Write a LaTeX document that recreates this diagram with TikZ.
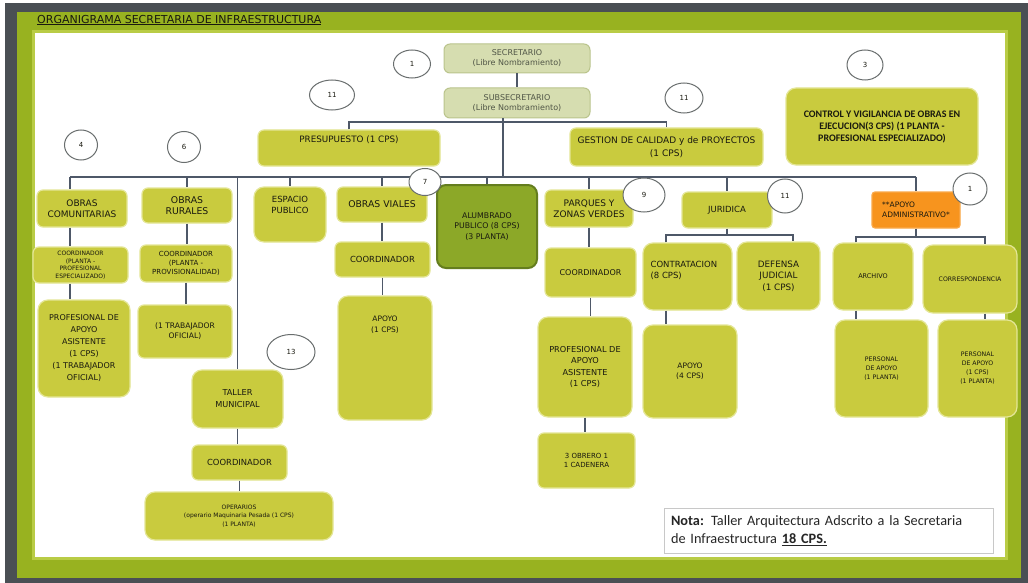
\documentclass[tikz,border=0pt]{standalone}
\usepackage{fontspec}
\setmainfont{Carlito}
\newfontfamily\boxfont{DejaVu Sans}
\usetikzlibrary{shapes.geometric}
\definecolor{frameDark}{RGB}{74,79,84}
\definecolor{frameGreen}{RGB}{152,178,32}
\definecolor{frameLight}{RGB}{185,204,70}
\definecolor{boxFill}{RGB}{201,203,62}
\definecolor{boxEdge}{RGB}{228,230,150}
\definecolor{paleFill}{RGB}{214,221,176}
\definecolor{paleEdge}{RGB}{186,196,140}
\definecolor{paleTxt}{RGB}{80,85,70}
\definecolor{alumFill}{RGB}{140,168,40}
\definecolor{alumEdge}{RGB}{100,125,30}
\definecolor{orangeFill}{RGB}{247,148,30}
\definecolor{lineCol}{RGB}{78,88,104}
\definecolor{txtCol}{RGB}{25,25,15}
\definecolor{circEdge}{RGB}{105,110,110}
\definecolor{notaEdge}{RGB}{200,200,200}
\newcommand\mkbox[7]{\node[#6, minimum width={#4-#2}, minimum height={#5-#3}] (#1) at ({(#2+#4)/2},{(#3+#5)/2}) {#7};}
\begin{document}
\begin{tikzpicture}[x=1pt,y=-1pt,
  bx/.style={draw=boxEdge, line width=1.2pt, fill=boxFill, rounded corners=6pt, text=txtCol, align=center, inner sep=1pt, font=\boxfont\fontsize{8}{10}\selectfont},
  fs/.style 2 args={font=\boxfont\fontsize{#1}{#2}\selectfont},
  bigr/.style={rounded corners=10pt},
  palebx/.style={bx, fill=paleFill, draw=paleEdge, line width=1pt, text=paleTxt},
  alumbx/.style={bx, fill=alumFill, draw=alumEdge, line width=2pt, rounded corners=9pt},
  orbx/.style={bx, fill=orangeFill, draw=orangeFill!80!white, align=left, rounded corners=3pt},
  num/.style={ellipse, draw=circEdge, line width=1pt, fill=white, inner sep=0pt, font=\boxfont\fontsize{7}{8}\selectfont, text=txtCol},
  conn/.style={draw=lineCol, line width=1.3pt},
  lbl/.style={text=txtCol, align=center, inner sep=0pt}]
\useasboundingbox (0,0) rectangle (1028,583);
% frame
\fill[white] (0,0) rectangle (1028,583);
\fill[frameDark] (5,3) rectangle (1028,583);
\fill[frameGreen] (17,12) rectangle (1021,578);
\draw[frameLight, line width=3pt] (33.5,31.5) rectangle (1006.5,558.5);
\fill[white] (35,33) rectangle (1005,557);
\node[anchor=west, font=\boxfont\fontsize{11}{12}\selectfont, text=txtCol, inner sep=0pt] (title) at (37,20) {\underline{ORGANIGRAMA SECRETARIA DE INFRAESTRUCTURA}};

% boxes
\mkbox{sec}{444}{44}{590}{73}{palebx,fs={8}{10}}{SECRETARIO\\(Libre Nombramiento)}
\mkbox{sub}{444}{88}{590}{118}{palebx,fs={8}{10}}{SUBSECRETARIO\\(Libre Nombramiento)}
\mkbox{pres}{258}{130}{440}{166}{bx,label={[lbl,fs={8.8}{11},anchor=north,yshift=-6pt]north:PRESUPUESTO (1 CPS)}}{}
\mkbox{gest}{570}{128}{763}{166}{bx,fs={9}{13}}{GESTION DE CALIDAD y de PROYECTOS\\(1 CPS)}
\mkbox{ctrl}{786}{88}{978}{165}{bx,bigr,fs={7.4}{11},font=\bfseries}{CONTROL Y VIGILANCIA DE OBRAS EN\\EJECUCION(3 CPS) (1 PLANTA -\\PROFESIONAL ESPECIALIZADO)}
\mkbox{ocom}{37}{190}{127}{227}{bx,fs={9}{11}}{OBRAS\\COMUNITARIAS}
\mkbox{coordA}{33}{247}{128}{283}{bx,fs={6}{7.5}}{COORDINADOR\\(PLANTA -\\PROFESIONAL\\ESPECIALIZADO)}
\mkbox{profA}{38}{300}{130}{397}{bx,bigr,fs={8}{12}}{PROFESIONAL DE\\APOYO\\ASISTENTE\\(1 CPS)\\(1 TRABAJADOR\\OFICIAL)}
\mkbox{orur}{142}{188}{232}{223}{bx,fs={9.3}{11}}{OBRAS\\RURALES}
\mkbox{coordB}{140}{245}{232}{282}{bx,fs={7}{9}}{COORDINADOR\\(PLANTA -\\PROVISIONALIDAD)}
\mkbox{trab}{138}{305}{232}{358}{bx,fs={7.6}{10}}{(1 TRABAJADOR\\OFICIAL)}
\mkbox{esp}{254}{187}{326}{242}{bx,bigr,label={[lbl,fs={8.5}{11},anchor=north,yshift=-10pt]north:ESPACIO\\PUBLICO}}{}
\mkbox{ovia}{337}{187}{427}{222}{bx,fs={9.3}{11}}{OBRAS VIALES}
\mkbox{coordD}{335}{242}{430}{277}{bx,fs={8.4}{10}}{COORDINADOR}
\mkbox{apoyoA}{338}{296}{432}{420}{bx,bigr,label={[lbl,fs={7.5}{11},anchor=north,yshift=-20pt]north:APOYO\\(1 CPS)}}{}
\mkbox{taller}{192}{370}{283}{428}{bx,bigr,fs={8.2}{12}}{TALLER\\MUNICIPAL}
\mkbox{coordC}{192}{445}{287}{480}{bx,fs={8.4}{10}}{COORDINADOR}
\mkbox{ops}{145}{492}{333}{540}{bx,bigr,fs={6}{8.5}}{OPERARIOS\\(operario Maquinaria Pesada (1 CPS)\\(1 PLANTA)}
\mkbox{alum}{437}{185}{537}{268}{alumbx,fs={7.8}{10.5}}{ALUMBRADO\\PUBLICO (8 CPS)\\(3 PLANTA)}
\mkbox{parq}{545}{190}{633}{227}{bx,fs={9}{11.5}}{PARQUES Y\\ZONAS VERDES}
\mkbox{coordE}{545}{248}{636}{297}{bx,fs={8}{10}}{COORDINADOR}
\mkbox{profB}{538}{317}{632}{417}{bx,bigr,fs={8.2}{11.5}}{PROFESIONAL DE\\APOYO\\ASISTENTE\\(1 CPS)}
\mkbox{obrero}{538}{433}{635}{488}{bx,fs={7}{9.5}}{3 OBRERO 1\\1 CADENERA}
\mkbox{jur}{682}{192}{772}{228}{bx,fs={8.5}{10}}{JURIDICA}
\mkbox{contr}{643}{243}{732}{310}{bx,bigr,label={[lbl,fs={8.5}{11},align=left,anchor=north west,xshift=8pt,yshift=-19pt]north west:CONTRATACION\\(8 CPS)}}{}
\mkbox{apoyoB}{643}{325}{737}{418}{bx,bigr,fs={7.5}{10}}{APOYO\\(4 CPS)}
\mkbox{def}{737}{242}{820}{310}{bx,bigr,fs={8.8}{11.5}}{DEFENSA\\JUDICIAL\\(1 CPS)}
\mkbox{aadm}{872}{192}{960}{228}{orbx,fs={7.5}{10}}{**APOYO\\ADMINISTRATIVO*}
\mkbox{arch}{833}{243}{913}{310}{bx,bigr,fs={6.5}{8}}{ARCHIVO}
\mkbox{corr}{923}{245}{1017}{313}{bx,bigr,fs={6.2}{8}}{CORRESPONDENCIA}
\mkbox{persA}{835}{320}{928}{417}{bx,bigr,fs={6.2}{9}}{PERSONAL\\DE APOYO\\(1 PLANTA)}
\mkbox{persB}{938}{320}{1017}{417}{bx,bigr,fs={6.2}{9}}{PERSONAL\\DE APOYO\\(1 CPS)\\(1 PLANTA)}

% connectors
\coordinate (bus) at (503,177);
\coordinate (br) at (503,122);
\coordinate (bL) at (70,177);
\draw[conn] (sec.south) -- (sub.north);
\draw[conn] (sub.south -| bus) -- (bus);
\draw[conn] (pres.north) |- (br) -| (gest.north);
\draw[conn] (bL) -- (aadm.north |- bus);
\draw[conn] (bL) -- (bL |- ocom.north);
\draw[conn] (ocom.south -| bL) -- (coordA.north -| bL);
\draw[conn] (coordA.south -| bL) -- (profA.north -| bL);
\draw[conn] (orur.north |- bus) -- (orur.north);
\draw[conn] (orur.south) -- (orur.south |- coordB.north);
\draw[conn] (coordB.south) -- (coordB.south |- trab.north);
\draw[conn] (taller.north |- bus) -- (taller.north);
\draw[conn] (taller.south) -- (taller.south |- coordC.north);
\draw[conn] (coordC.south) -- (coordC.south |- ops.north);
\draw[conn] (esp.north |- bus) -- (esp.north);
\draw[conn] (ovia.north |- bus) -- (ovia.north);
\draw[conn] (ovia.south) -- (ovia.south |- coordD.north);
\draw[conn] (coordD.south) -- (coordD.south |- apoyoA.north);
\draw[conn] (alum.north |- bus) -- (alum.north);
\draw[conn] (parq.north |- bus) -- (parq.north);
\draw[conn] (parq.south) -- (parq.south |- coordE.north);
\draw[conn] (coordE.south) -- (coordE.south |- profB.north);
\draw[conn] (profB.south) -- (profB.south |- obrero.north);
\draw[conn] (jur.north |- bus) -- (jur.north);
\draw[conn] (aadm.north |- bus) -- (aadm.north);
\coordinate (jl) at (666,235);
\coordinate (jr) at (793,235);
\draw[conn] (jur.south) -- (jur.south |- jl);
\draw[conn] (jl |- contr.north) -- (jl) -- (jr) -- (jr |- def.north);
\draw[conn] (contr.south -| jl) -- (apoyoB.north -| jl);
\coordinate (al) at (856,237);
\coordinate (ar) at (985,237);
\draw[conn] (aadm.south) -- (aadm.south |- al);
\draw[conn] (al |- arch.north) -- (al) -- (ar) -- (ar |- corr.north);
\draw[conn] (arch.south -| al) -- (persA.north -| al);
\draw[conn] (corr.south -| ar) -- (persB.north -| ar);

% number circles
\node[num, minimum width=37, minimum height=28] (n1) at (412,64) {1};
\node[num, minimum width=45, minimum height=30] (n11a) at (332,95) {11};
\node[num, minimum width=38, minimum height=30] (n11b) at (684,98) {11};
\node[num, minimum width=36, minimum height=30] (n3) at (865,65) {3};
\node[num, minimum width=33, minimum height=30] (n4) at (81,145) {4};
\node[num, minimum width=33, minimum height=31] (n6) at (184,147) {6};
\node[num, minimum width=32, minimum height=27] (n7) at (425,182) {7};
\node[num, minimum width=42, minimum height=34] (n9) at (644,195) {9};
\node[num, minimum width=35, minimum height=34] (n11c) at (785,196) {11};
\node[num, minimum width=34, minimum height=32] (n1b) at (970,189) {1};
\node[num, minimum width=48, minimum height=35] (n13) at (291,352) {13};

% nota
\node[draw=notaEdge, line width=0.8pt, fill=white, minimum height=45, inner sep=7pt, text width=315pt, align=left, font=\fontsize{14.3}{18}\selectfont, text=black!85] (nota) at (828.5,530.5) {\textbf{Nota:} Taller Arquitectura Adscrito a la Secretaria\\de Infraestructura \underline{\textbf{18 CPS.}}};
\end{tikzpicture}
\end{document}
